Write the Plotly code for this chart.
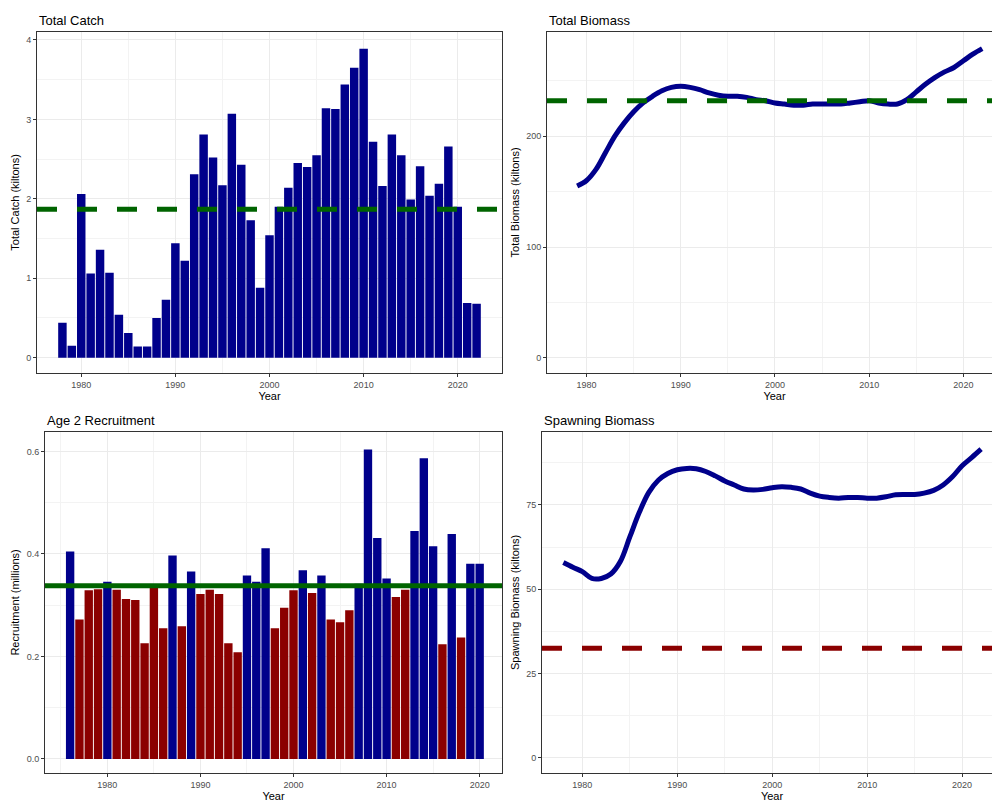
import plotly.graph_objects as go

catch_years = list(range(1978, 2023))
catch_vals = [0.44, 0.15, 2.06, 1.06, 1.36, 1.07, 0.54, 0.31, 0.14, 0.14, 0.50, 0.73, 1.44, 1.22, 2.31, 2.81,
              2.52, 2.17, 3.07, 2.43, 1.73, 0.88, 1.54, 1.90, 2.14, 2.45, 2.40, 2.55, 3.14, 3.13, 3.44, 3.65,
              3.89, 2.72, 2.16, 2.81, 2.55, 1.99, 2.41, 2.04, 2.19, 2.66, 1.90, 0.69, 0.68]
catch_mean = 1.87

tb_years = list(range(1979, 2023))
tb_vals = [155, 160, 170, 185, 200, 212, 222, 230, 236, 241, 244, 245, 244, 242, 239, 237, 236, 236, 235,
           233, 232, 230, 229, 228, 228, 229, 229, 229, 229, 230, 231, 232, 230, 229, 229, 233, 240, 247,
           253, 258, 262, 268, 274, 279]
tb_mean = 232

rec_years = list(range(1976, 2021))
rec_vals = [0.405, 0.272, 0.329, 0.331, 0.346, 0.330, 0.312, 0.310, 0.226, 0.336, 0.255, 0.397, 0.259,
            0.366, 0.322, 0.330, 0.322, 0.226, 0.208, 0.358, 0.346, 0.411, 0.255, 0.295, 0.329, 0.368,
            0.324, 0.358, 0.272, 0.267, 0.290, 0.342, 0.604, 0.431, 0.352, 0.316, 0.330, 0.445, 0.587,
            0.415, 0.224, 0.439, 0.237, 0.381, 0.381]
rec_mean = 0.338

sb_years = list(range(1978, 2023))
sb_vals = [57.9, 56.5, 55.2, 53.2, 53.2, 54.5, 58.2, 65.5, 72.8, 78.7, 82.3, 84.3, 85.4, 85.8, 85.7, 84.9,
           83.6, 82.1, 80.9, 79.7, 79.4, 79.6, 80.1, 80.4, 80.2, 79.7, 78.5, 77.6, 77.2, 77.0, 77.2, 77.2,
           77.0, 77.0, 77.4, 78.0, 78.1, 78.1, 78.5, 79.3, 80.9, 83.4, 86.6, 89.0, 91.5]
sb_ref = 32.5

BLUE = "#00008B"
GREEN = "#006400"
RED = "#8B0000"

fig = go.Figure()
fig.add_trace(go.Bar(x=catch_years, y=catch_vals, marker=dict(color=BLUE, line=dict(width=0)),
                     width=0.9, xaxis="x", yaxis="y"))
fig.add_trace(go.Scatter(x=tb_years, y=tb_vals, mode="lines", line=dict(color=BLUE, width=5, shape="spline"),
                         xaxis="x2", yaxis="y2"))
rec_cols = [BLUE if v >= rec_mean else RED for v in rec_vals]
fig.add_trace(go.Bar(x=rec_years, y=rec_vals, marker=dict(color=rec_cols, line=dict(width=0)),
                     width=0.9, xaxis="x3", yaxis="y3"))
fig.add_trace(go.Scatter(x=sb_years, y=sb_vals, mode="lines", line=dict(color=BLUE, width=5, shape="spline"),
                         xaxis="x4", yaxis="y4"))

def hline(xa, ya, y, color, dash):
    fig.add_shape(type="line", xref=f"{xa} domain", yref=ya, x0=0, x1=1, y0=y, y1=y,
                  line=dict(color=color, width=5, dash=dash))

hline("x", "y", catch_mean, GREEN, "20px,20px")
hline("x2", "y2", tb_mean, GREEN, "20px,20px")
hline("x3", "y3", rec_mean, GREEN, "solid")
hline("x4", "y4", sb_ref, RED, "20px,20px")

tickf = dict(family="Liberation Sans, Arial", size=9, color="#4d4d4d")
def xax(dom, anchor, rng):
    return dict(domain=dom, anchor=anchor, range=rng, dtick=10, tick0=1980, showline=True, mirror=True,
                linecolor="#333333", linewidth=1, ticks="outside", ticklen=3, tickcolor="#333333",
                gridcolor="#ebebeb", gridwidth=1, zeroline=False, tickfont=tickf, automargin=False,
                minor=dict(dtick=5, tick0=1975, showgrid=True, gridcolor="#f3f3f3"),
                title=dict(text="Year", font=dict(family="Liberation Sans, Arial", size=11, color="black"), standoff=2))
def yax(dom, anchor, rng, dt, mdt, title, fmt=None):
    d = dict(domain=dom, anchor=anchor, range=rng, dtick=dt, tick0=0, showline=True, mirror=True,
             linecolor="#333333", linewidth=1, ticks="outside", ticklen=3, tickcolor="#333333",
             gridcolor="#ebebeb", gridwidth=1, zeroline=False, tickfont=tickf, automargin=False,
             minor=dict(dtick=mdt, showgrid=True, gridcolor="#f3f3f3"),
             title=dict(text=title, font=dict(family="Liberation Sans, Arial", size=11, color="black"), standoff=4))
    if fmt:
        d["tickformat"] = fmt
    return d

fig.update_layout(
    width=1000, height=800, margin=dict(l=0, r=0, t=0, b=0, autoexpand=False), showlegend=False,
    plot_bgcolor="white", paper_bgcolor="white",
    xaxis=xax([0.029, 0.494], "y", [1975.3, 2024.7]),
    yaxis=yax([0.544, 0.97], "x", [-0.19, 4.10], 1, 0.5, "Total Catch (kiltons)"),
    xaxis2=xax([0.539, 0.994], "y2", [1975.8, 2024.1]),
    yaxis2=yax([0.544, 0.97], "x2", [-13.5, 294], 100, 50, "Total Biomass (kiltons)"),
    xaxis3=xax([0.037, 0.494], "y3", [1973.3, 2022.4]),
    yaxis3=yax([0.044, 0.47], "x3", [-0.027, 0.638], 0.2, 0.1, "Recruitment (millions)", ".1f"),
    xaxis4=xax([0.534, 0.994], "y4", [1975.75, 2024.2]),
    yaxis4=yax([0.044, 0.47], "x4", [-4.4, 96.6], 25, 12.5, "Spawning Biomass (kiltons)"),
)
for txt, x, y in [("Total Catch", 0.029, 0.985), ("Total Biomass", 0.539, 0.985),
                  ("Age 2 Recruitment", 0.037, 0.485), ("Spawning Biomass", 0.534, 0.485)]:
    fig.add_annotation(text=txt, x=x, y=y, xref="paper", yref="paper", xanchor="left", yanchor="middle",
                       showarrow=False, font=dict(family="Liberation Sans, Arial", size=13, color="black"))

fig.write_html("out.html")
